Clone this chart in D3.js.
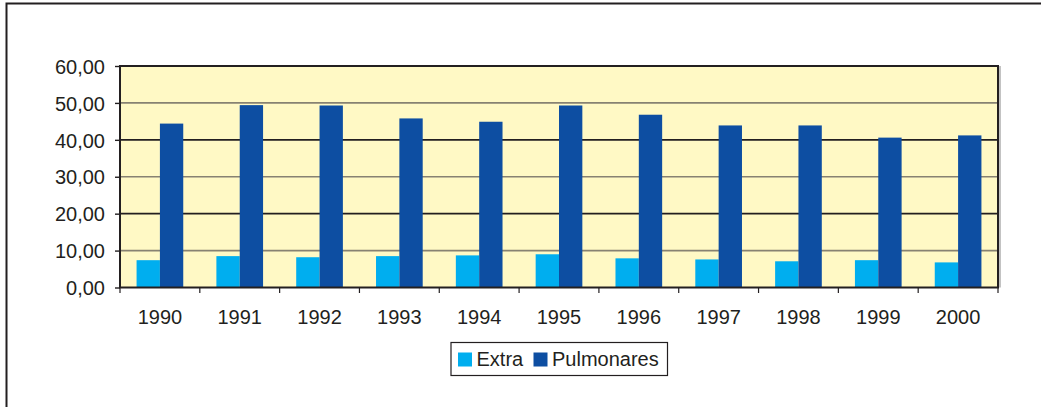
<!DOCTYPE html>
<html>
<head>
<meta charset="utf-8">
<script src="https://cdn.jsdelivr.net/npm/d3@7"></script>
<style>
body { margin: 0; background: #fff; }
text { font-family: "Liberation Sans", Arial, sans-serif; fill: #231f20; }
</style>
</head>
<body>
<svg id="chart" width="1041" height="407"></svg>
<script>
// data
var years = ['1990','1991','1992','1993','1994','1995','1996','1997','1998','1999','2000'];
var extra = [7.4, 8.5, 8.2, 8.5, 8.7, 9.0, 7.9, 7.6, 7.1, 7.4, 6.8];
var pulmonares = [44.4, 49.4, 49.3, 45.8, 44.9, 49.3, 46.8, 43.9, 43.9, 40.6, 41.2];
var seriesNames = ['Extra', 'Pulmonares'];
var seriesColors = ['#00aeef', '#0d4ea2'];
var yTicks = [0, 10, 20, 30, 40, 50, 60];

var svg = d3.select('#chart');

// outer frame
svg.append('rect').attr('x', 6.5).attr('y', 3.5).attr('width', 1040).attr('height', 410)
	.attr('fill', 'none').attr('stroke', '#231f20').attr('stroke-width', 2);

var plotLeft = 120, plotRight = 998, plotTop = 66, plotBottom = 287.5;

var x = d3.scaleBand().domain(years).range([plotLeft, plotRight]).paddingInner(0).paddingOuter(0);
var xs = d3.scaleBand().domain(seriesNames).range([0, x.bandwidth()]).paddingInner(0).paddingOuter(0.71);
var y = d3.scaleLinear().domain([0, 60]).range([plotBottom, plotTop]);

// plot background
svg.append('rect').attr('x', plotLeft).attr('y', plotTop).attr('width', plotRight - plotLeft).attr('height', plotBottom - plotTop)
	.attr('fill', '#fff9c5');

// gridlines (alternating tone, like the original scan)
svg.append('g').selectAll('line').data(yTicks.filter(d => d > 0 && d < 60)).enter().append('line')
	.attr('x1', plotLeft).attr('x2', plotRight)
	.attr('y1', d => y(d)).attr('y2', d => y(d))
	.attr('stroke', d => (d / 10) % 2 == 1 ? '#878272' : '#231f20')
	.attr('stroke-width', 1.6);

// bars
var data = years.map((yr, i) => ({ year: yr, values: [extra[i], pulmonares[i]] }));
var groups = svg.append('g').selectAll('g').data(data).enter().append('g')
	.attr('transform', d => 'translate(' + x(d.year) + ',0)');
groups.selectAll('rect').data(d => d.values.map((v, j) => ({ name: seriesNames[j], v: v, c: seriesColors[j] })))
	.enter().append('rect')
	.attr('x', d => xs(d.name))
	.attr('width', xs.bandwidth())
	.attr('y', d => y(d.v))
	.attr('height', d => y(0) - y(d.v))
	.attr('fill', d => d.c);

// plot border
svg.append('rect').attr('x', plotLeft).attr('y', plotTop).attr('width', plotRight - plotLeft).attr('height', plotBottom - plotTop)
	.attr('fill', 'none').attr('stroke', '#231f20').attr('stroke-width', 2);
svg.append('line').attr('x1', plotRight + 2).attr('x2', plotRight + 2).attr('y1', plotTop).attr('y2', plotBottom)
	.attr('stroke', '#9a9a9a').attr('stroke-width', 1.2);

// y axis
var yAxis = svg.append('g').attr('transform', 'translate(' + plotLeft + ',0)')
	.call(d3.axisLeft(y).tickValues(yTicks).tickSize(5).tickPadding(10)
		.tickFormat(d => d3.format('.2f')(d).replace('.', ',')));
yAxis.select('.domain').remove();
yAxis.selectAll('line').attr('stroke', '#231f20').attr('stroke-width', 1.4);
yAxis.selectAll('text').attr('font-size', '20px').attr('dy', '0.36em');

// x axis
var xAxis = svg.append('g').attr('transform', 'translate(0,' + plotBottom + ')')
	.call(d3.axisBottom(x).tickSize(0).tickPadding(22));
xAxis.select('.domain').remove();
xAxis.selectAll('text').attr('font-size', '20px');
var edges = years.map(d => x(d)).concat([plotRight]);
svg.append('g').selectAll('line').data(edges).enter().append('line')
	.attr('x1', d => d).attr('x2', d => d).attr('y1', plotBottom).attr('y2', plotBottom + 5.5)
	.attr('stroke', '#231f20').attr('stroke-width', 1.2);

// legend
var legend = svg.append('g');
legend.append('rect').attr('x', 451).attr('y', 342.5).attr('width', 216.5).attr('height', 33)
	.attr('fill', '#fff').attr('stroke', '#231f20').attr('stroke-width', 1.2);
var legendX = [458, 533.5];
var items = legend.selectAll('g').data(seriesNames).enter().append('g')
	.attr('transform', (d, i) => 'translate(' + legendX[i] + ',0)');
items.append('rect').attr('y', 352.5).attr('width', 14).attr('height', 14)
	.attr('fill', (d, i) => seriesColors[i]);
items.append('text').attr('x', 18.5).attr('y', 366).attr('font-size', '20px').text(d => d);
</script>
</body>
</html>
